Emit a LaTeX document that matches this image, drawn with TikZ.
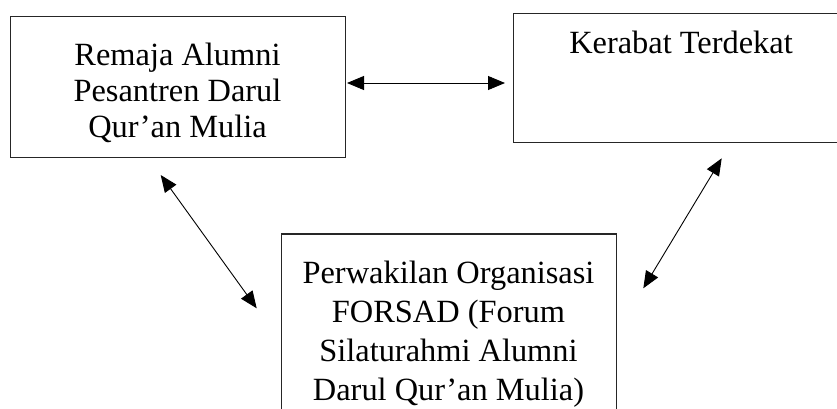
\documentclass[tikz,border=0pt]{standalone}
\usepackage{fontspec}
\setmainfont{Liberation Serif}
\usetikzlibrary{arrows.meta}
\begin{document}
\begin{tikzpicture}[x=1pt,y=-1pt,
  boxnode/.style={draw=black!85,line width=1.2pt,rectangle,inner sep=0pt,anchor=north west},
  txt/.style={font=\fontsize{32.4}{36}\selectfont,align=center,anchor=base,inner sep=0pt},
  txtb/.style={font=\fontsize{32.4}{39}\selectfont,align=center,anchor=base,inner sep=0pt},
  biarrow/.style={line width=0.9pt,{Triangle[length=17pt,width=14pt]}-{Triangle[length=17pt,width=14pt]}}]
\useasboundingbox (0,0) rectangle (837,408);
\clip (0,0) rectangle (837,408);
\node[boxnode,minimum width=335pt,minimum height=141pt] (a) at (10,16) {};
\node[boxnode,minimum width=336pt,minimum height=129pt] (b) at (513,12.7) {};
\node[boxnode,minimum width=335pt,minimum height=190pt] (c) at (281,233.3) {};
\node[txt] (ta) at (177.5,137) {Remaja Alumni\\Pesantren Darul\\Qur’an Mulia};
\node[txt] (tb) at (681,53) {Kerabat Terdekat};
\node[txtb] (tc) at (448.5,400) {Perwakilan Organisasi\\FORSAD (Forum\\Silaturahmi Alumni\\Darul Qur’an Mulia)};
\coordinate (h1) at (347,83);
\coordinate (h2) at (505,83);
\coordinate (l1) at (160.7,175);
\coordinate (l2) at (256.7,308.3);
\coordinate (r1) at (721.7,158.3);
\coordinate (r2) at (643.3,288.3);
\draw[biarrow] (h1) -- (h2);
\draw[biarrow] (l1) -- (l2);
\draw[biarrow] (r1) -- (r2);
\end{tikzpicture}
\end{document}
